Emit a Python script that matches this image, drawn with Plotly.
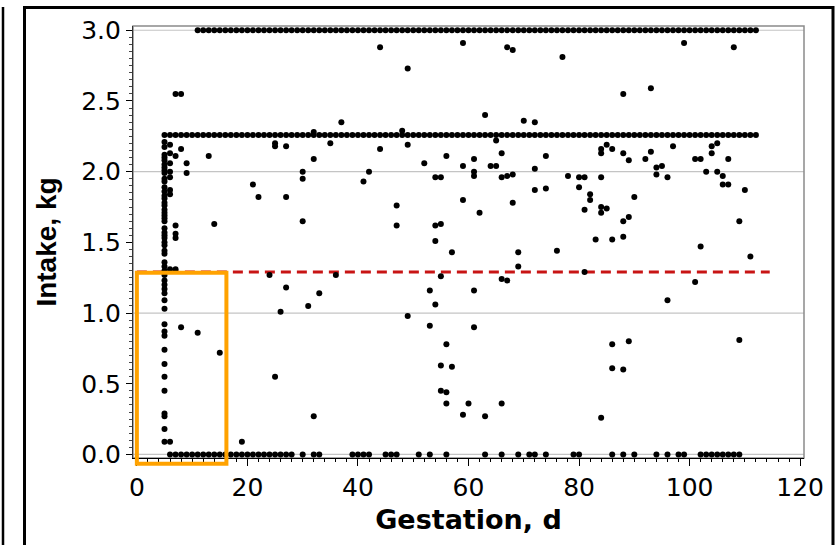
import plotly.graph_objects as go

# ---------------- data ----------------
# days with intake capped at 3.0 kg
cap3_days = [11, 12, 13, 14, 15, 16, 17, 18, 19, 20, 21, 22, 23, 24, 25, 26, 27, 28, 29, 30,
             31, 32, 33, 34, 35, 36, 37, 38, 39, 40, 41, 42, 43, 44, 45, 46, 47, 48, 49, 50,
             51, 52, 53, 54, 55, 56, 57, 58, 59, 60, 61, 62, 63, 64, 65, 66, 67, 68, 69, 70,
             71, 72, 73, 74, 75, 76, 77, 78, 79, 80, 81, 82, 83, 84, 85, 86, 87, 88, 89, 90,
             91, 92, 93, 94, 95, 96, 97, 98, 99, 100, 101, 102, 103, 104, 105, 106, 107, 108,
             109, 110, 111, 112]
cap3_value = 3.0

# days with intake at the 2.26 kg level
cap2_days = [5, 6, 7, 8, 9, 10, 11, 12, 13, 14, 15, 16, 17, 18, 19, 20, 21, 22, 23, 24, 25,
             26, 27, 28, 29, 30, 31, 32, 33, 34, 35, 36, 37, 38, 39, 40, 41, 42, 43, 44, 45,
             46, 47, 48, 49, 50, 51, 52, 53, 54, 55, 56, 57, 58, 59, 60, 61, 62, 63, 64, 65,
             66, 67, 68, 69, 70, 71, 72, 73, 74, 75, 76, 77, 78, 79, 80, 81, 82, 83, 84, 85,
             86, 87, 88, 89, 90, 91, 92, 93, 94, 95, 96, 97, 98, 99, 100, 101, 102, 103, 104,
             105, 106, 107, 108, 109, 110, 111, 112]
cap2_value = 2.26

# days with zero intake
zero_days = [6, 7, 8, 9, 10, 11, 12, 13, 14, 15, 16, 17, 18, 19, 20, 21, 22, 23, 24, 25, 26,
             27, 28, 30, 32, 33, 39, 40, 41, 42, 45, 46, 47, 51, 53, 56, 63, 66, 69, 71, 72,
             74, 79, 80, 86, 88, 90, 94, 96, 98, 99, 102, 103, 104, 105, 106, 107, 108, 109]
zero_value = 0.0

# column of observations on day 5
day5_values = [2.21, 2.175, 2.12, 2.10, 2.08, 2.05, 2.03, 2.01, 1.99, 1.95, 1.93, 1.89, 1.86,
               1.83, 1.81, 1.78, 1.76, 1.73, 1.71, 1.69, 1.67, 1.65, 1.60, 1.57, 1.55, 1.53,
               1.50, 1.48, 1.44, 1.42, 1.36, 1.33, 1.30, 1.27, 1.23, 1.20, 1.17, 1.14, 1.09,
               1.03, 0.92, 0.87, 0.84, 0.74, 0.64, 0.55, 0.45, 0.29, 0.27, 0.18, 0.09]
day5 = 5

# remaining scattered observations
other_days = [6, 6, 6, 6, 6, 6, 6, 6, 6,
              7, 7, 7, 7, 7, 7,
              8, 8, 8, 9, 9, 11, 13, 14, 15, 19, 21, 22, 24,
              25, 25, 25, 26, 27, 27, 27,
              30, 30, 30, 31, 32, 32, 32, 33, 35, 36, 37, 41, 42, 44, 44, 47, 47, 48,
              49, 49, 49, 52, 53, 53, 54, 54, 54, 54, 55, 55, 55, 55, 55,
              56, 56, 56, 56, 57, 57, 59, 59, 59, 59, 60, 61, 61, 61, 61, 61, 62,
              63, 63, 64, 65, 65, 66, 66, 66, 66, 67, 67, 67, 68, 68, 68, 69, 69,
              70, 72, 72, 72, 74, 74, 76, 77, 78, 80, 80, 81, 81, 81, 82, 82, 83,
              84, 84, 84, 84, 84, 84, 85, 85, 86, 86, 86, 86, 88, 88, 88, 88, 88,
              89, 89, 89, 90, 92, 93, 93, 94, 94, 95, 96, 96, 97, 99, 101, 101,
              102, 102, 103, 104, 104, 105, 105, 106, 106, 107, 107, 108, 109, 109,
              110, 111]
other_values = [2.19, 2.13, 2.06, 2.00, 1.96, 1.87, 1.84, 1.31, 0.09,
                2.55, 2.11, 1.62, 1.56, 1.53, 1.31,
                2.55, 2.16, 0.90, 2.06, 1.99, 0.86, 2.11, 1.63, 0.72, 0.09, 1.91, 1.82, 1.27,
                2.20, 2.18, 0.55, 1.01, 2.18, 1.82, 1.18,
                2.00, 1.95, 1.65, 1.05, 2.28, 2.09, 0.27, 1.14, 2.20, 1.27, 2.35, 1.93, 2.00,
                2.88, 2.16, 1.76, 1.62, 2.29,
                2.73, 2.19, 0.98, 2.06, 1.16, 0.91, 1.96, 1.62, 1.51, 1.06, 1.96, 1.63, 1.26,
                0.63, 0.45,
                2.11, 0.78, 0.44, 0.36, 1.43, 0.62, 2.91, 2.04, 1.80, 0.28, 0.36, 2.09, 2.00,
                1.97, 1.16, 0.90, 1.71,
                2.40, 0.27, 2.04, 2.04, 2.22, 2.13, 1.96, 1.24, 0.36, 2.88, 1.97, 1.23, 2.86,
                1.98, 1.78, 1.43, 1.33,
                2.36, 2.35, 2.02, 1.87, 2.11, 1.88, 1.44, 2.81, 1.97, 1.96, 1.89, 1.96, 1.73,
                1.29, 1.84, 1.80, 1.52,
                2.16, 2.13, 1.96, 1.75, 1.71, 0.26, 2.19, 1.74, 2.16, 1.52, 0.78, 0.61, 2.55,
                2.13, 1.65, 1.54, 0.60,
                2.08, 1.68, 0.80, 1.82, 2.09, 2.59, 2.14, 2.03, 1.98, 2.04, 1.96, 1.09, 2.18,
                2.91, 2.09, 1.22,
                2.09, 1.47, 2.00, 2.18, 2.13, 2.20, 2.00, 1.97, 1.91, 2.09, 1.91, 2.88, 1.65,
                0.81, 1.87, 1.40]

# reference line and highlighted region
threshold = 1.29
threshold_days = [0, 114.5]
box_days = [0, 16.2]
box_intake = [-0.066, 1.285]

x_ticks = [0, 20, 40, 60, 80, 100, 120]
y_ticks = [0.0, 0.5, 1.0, 1.5, 2.0, 2.5, 3.0]
y_gridlines = [0.0, 1.0, 2.0, 3.0]

x_title = "Gestation, d"
y_title = "Intake, kg"

# ---------------- figure ----------------
W, H = 839, 545
ML, MR, MT, MB = 133, 35, 26, 87
XR = [-0.7, 120.7]
YR = [-0.025, 3.03]
PW = W - ML - MR
PH = H - MT - MB


def px_to_paper_x(px):
    return (px - ML) / PW


def py_to_paper_y(py):
    return (H - MB - py) / PH


def dx_to_paper(x):
    return (x - XR[0]) / (XR[1] - XR[0])


def dy_to_paper(y):
    return (y - YR[0]) / (YR[1] - YR[0])


all_x = (cap3_days + cap2_days + zero_days + [day5] * len(day5_values) + other_days)
all_y = ([cap3_value] * len(cap3_days) + [cap2_value] * len(cap2_days)
         + [zero_value] * len(zero_days) + day5_values + other_values)

fig = go.Figure()

fig.add_trace(go.Scatter(
    x=threshold_days, y=[threshold, threshold], mode="lines",
    line=dict(color="#c81414", width=3, dash="10px,6px"),
    hoverinfo="skip", showlegend=False))

fig.add_trace(go.Scatter(
    x=all_x, y=all_y, mode="markers",
    marker=dict(color="black", size=6, line=dict(width=0)),
    showlegend=False))

shapes = []
# horizontal gridlines
for g in y_gridlines:
    shapes.append(dict(type="line", xref="paper", yref="y", x0=0, x1=1, y0=g, y1=g,
                       line=dict(color="#c4c4c4", width=1.2), layer="below"))
# plot frame (gray)
shapes.append(dict(type="rect", xref="paper", yref="paper", x0=0, x1=1, y0=0, y1=1,
                   line=dict(color="#8a8a8a", width=1.5), layer="below"))
# outer panel frame
shapes.append(dict(type="rect", xref="paper", yref="paper",
                   x0=px_to_paper_x(24.5), x1=px_to_paper_x(833),
                   y0=py_to_paper_y(560), y1=py_to_paper_y(7.5),
                   line=dict(color="black", width=3)))
# neighbouring panel's right border
shapes.append(dict(type="line", xref="paper", yref="paper",
                   x0=px_to_paper_x(3), x1=px_to_paper_x(3),
                   y0=py_to_paper_y(7), y1=py_to_paper_y(560),
                   line=dict(color="black", width=2.5)))
# highlight box
shapes.append(dict(type="rect", xref="paper", yref="paper",
                   x0=dx_to_paper(box_days[0]), x1=dx_to_paper(box_days[1]),
                   y0=dy_to_paper(box_intake[0]), y1=dy_to_paper(box_intake[1]),
                   line=dict(color="#ffa200", width=4)))

font_fam = "DejaVu Sans, sans-serif"
ytitle_fam = "Liberation Sans, Arial, sans-serif"

fig.update_layout(
    width=W, height=H, autosize=False,
    margin=dict(l=ML, r=MR, t=MT, b=MB, pad=0),
    paper_bgcolor="white", plot_bgcolor="white",
    shapes=shapes,
    font=dict(family=font_fam, color="black"),
    xaxis=dict(
        range=XR, tickmode="array", tickvals=x_ticks, ticktext=[str(v) for v in x_ticks],
        ticks="outside", ticklen=7, tickwidth=1, tickcolor="black",
        showline=True, linecolor="black", linewidth=1.2,
        showgrid=False, zeroline=False,
        minor=dict(dtick=2, tick0=0, ticks="outside", ticklen=3, tickcolor="black", showgrid=False),
        tickfont=dict(size=25, family=font_fam, color="black"),
        title=dict(text="<b>" + x_title + "</b>", font=dict(size=27, family=font_fam, color="black"),
                   standoff=9),
    ),
    yaxis=dict(
        range=YR, tickmode="array", tickvals=y_ticks, ticktext=["%.1f" % v for v in y_ticks],
        ticks="outside", ticklen=6, tickwidth=1, tickcolor="black",
        showline=True, linecolor="#333333", linewidth=1.2,
        showgrid=False, zeroline=False,
        minor=dict(dtick=0.05, tick0=0, ticks="outside", ticklen=3, tickcolor="#444444", showgrid=False),
        tickfont=dict(size=25, family=font_fam, color="black"),
        title=dict(text="<b>" + y_title + "</b>", font=dict(size=28, family=ytitle_fam, color="black"),
                   standoff=16),
    ),
)

fig.write_html("out.html")
